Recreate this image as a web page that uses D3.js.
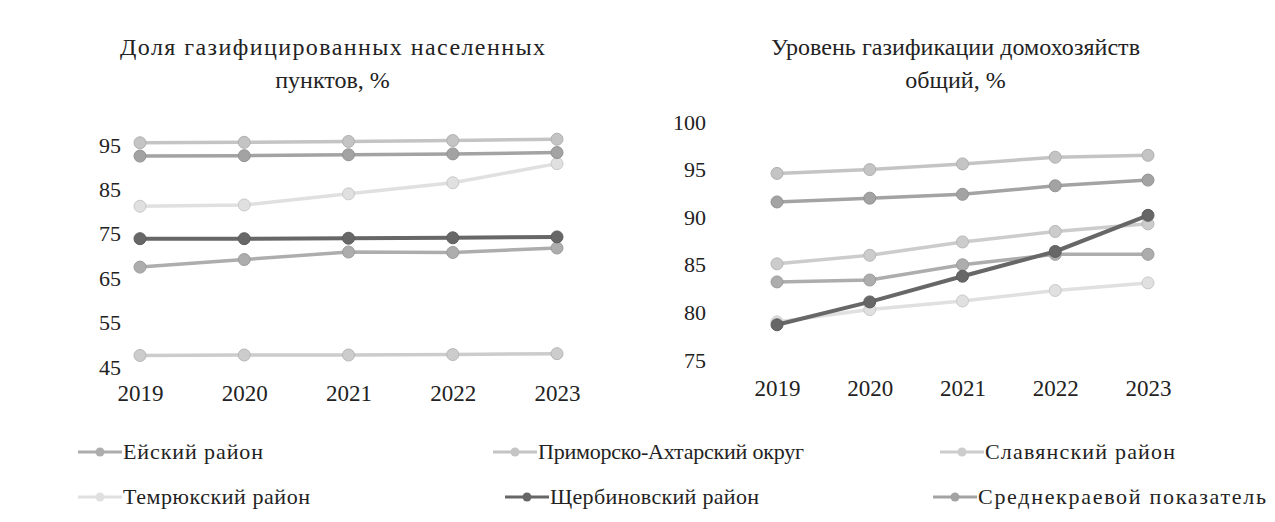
<!DOCTYPE html>
<html>
<head>
<meta charset="utf-8">
<script src="https://cdn.jsdelivr.net/npm/d3@7"></script>
<style>
  body { margin: 0; background: #fff; }
</style>
</head>
<body>
<div id="chart"></div>
<script>
'use strict';

// years on the x axis
const years = [2019, 2020, 2021, 2022, 2023];

// series names, in legend order
const names = [
  'Ейский район',
  'Приморско-Ахтарский округ',
  'Славянский район',
  'Темрюкский район',
  'Щербиновский район',
  'Среднекраевой показатель'
];
const shades = ['#adadad', '#c4c4c4', '#cccccc', '#e0e0e0', '#676767', '#a3a3a3'];

// left chart: share of gasified settlements, %
const settlementsEysk     = [67.5, 69.2, 70.9, 70.8, 71.8];
const settlementsPrimorsk = [95.5, 95.6, 95.8, 96.0, 96.3];
const settlementsSlav     = [47.6, 47.7, 47.7, 47.8, 48.0];
const settlementsTemr     = [81.2, 81.5, 84.0, 86.5, 90.8];
const settlementsScherb   = [73.9, 73.9, 74.0, 74.1, 74.3];
const settlementsAvg      = [92.5, 92.6, 92.8, 93.0, 93.3];
const leftTicks = [45, 55, 65, 75, 85, 95];

// right chart: households gasification level, %
const householdsEysk     = [83.2, 83.4, 85.0, 86.1, 86.1];
const householdsPrimorsk = [94.6, 95.0, 95.6, 96.3, 96.5];
const householdsSlav     = [85.1, 86.0, 87.4, 88.5, 89.3];
const householdsTemr     = [79.0, 80.3, 81.2, 82.3, 83.1];
const householdsScherb   = [78.7, 81.1, 83.8, 86.4, 90.2];
const householdsAvg      = [91.6, 92.0, 92.4, 93.3, 93.9];
const rightTicks = [75, 80, 85, 90, 95, 100];

const FONT = 'Liberation Serif';
const W = 1275, H = 522;
const svg = d3.select('#chart').append('svg')
  .attr('width', W).attr('height', H)
  .attr('font-family', FONT);

// draw order: light ones under, dark on top
const order = [3, 2, 1, 0, 5, 4];

const panel = function(opts) {
  const x = d3.scalePoint().domain(years).range(opts.xr);
  const y = d3.scaleLinear().domain(opts.yd).range(opts.yr);
  const g = svg.append('g');

  // title: first line stretched to the reference width, second centred
  g.append('text')
    .attr('font-family', FONT)
    .attr('font-size', 24)
    .attr('fill', '#222')
    .attr('x', opts.tx)
    .attr('y', 55)
    .attr('textLength', opts.tw)
    .attr('lengthAdjust', 'spacing')
    .text(opts.title[0]);
  g.append('text')
    .attr('font-family', FONT)
    .attr('font-size', 24)
    .attr('fill', '#222')
    .attr('text-anchor', 'middle')
    .attr('x', opts.tx + opts.tw / 2)
    .attr('y', 88)
    .text(opts.title[1]);

  const yAxis = d3.axisLeft(y).tickValues(opts.ticks).tickSize(0).tickPadding(0);
  g.append('g')
    .attr('transform', `translate(${opts.yx},0)`)
    .call(yAxis)
    .attr('font-family', FONT)
    .call(a => a.select('.domain').remove())
    .selectAll('text')
    .attr('font-family', FONT)
    .attr('font-size', 22)
    .attr('fill', '#222');

  const xAxis = d3.axisBottom(x).tickSize(0).tickPadding(0);
  g.append('g')
    .attr('transform', `translate(0,${opts.xy})`)
    .call(xAxis)
    .attr('font-family', FONT)
    .call(a => a.select('.domain').remove())
    .selectAll('text')
    .attr('font-family', FONT)
    .attr('font-size', 23)
    .attr('fill', '#222');

  const line = d3.line().x((d, i) => x(years[i])).y(d => y(d));
  order.forEach(function(k) {
    const vals = opts.series[k];
    g.append('path')
      .attr('d', line(vals))
      .style('fill', 'none')
      .style('stroke', shades[k])
      .style('stroke-width', k === 4 ? 4 : 3.5);
    g.selectAll(null)
      .data(vals)
      .enter()
      .append('circle')
      .attr('cx', (d, i) => x(years[i]))
      .attr('cy', d => y(d))
      .attr('r', 6)
      .style('fill', shades[k])
      .style('stroke', d3.color(shades[k]).darker(0.3))
      .style('stroke-width', 1);
  });
};

panel({
  title: ['Доля газифицированных населенных', 'пунктов, %'],
  tx: 120, tw: 425,
  xr: [140, 557], xy: 385,
  yd: [45, 95], yr: [367, 145], yx: 121,
  ticks: leftTicks,
  series: [settlementsEysk, settlementsPrimorsk, settlementsSlav,
           settlementsTemr, settlementsScherb, settlementsAvg]
});

panel({
  title: ['Уровень газификации домохозяйств', 'общий, %'],
  tx: 771, tw: 369,
  xr: [777, 1148], xy: 380,
  yd: [75, 100], yr: [360, 122], yx: 706,
  ticks: rightTicks,
  series: [householdsEysk, householdsPrimorsk, householdsSlav,
           householdsTemr, householdsScherb, householdsAvg]
});

// legend
const legendPos = [
  [78, 452], [493, 452], [940, 452],
  [78, 497], [505, 497], [933, 497]
];
const legendWidth = [140, 266, 190, 187, 209, 288];
const legend = svg.append('g');
names.forEach(function(n, k) {
  const [lx, ly] = legendPos[k];
  const item = legend.append('g').attr('transform', `translate(${lx},${ly})`);
  item.append('line')
    .attr('x1', 0).attr('x2', 44)
    .attr('y1', 0).attr('y2', 0)
    .style('stroke', shades[k])
    .style('stroke-width', 3);
  item.append('circle')
    .attr('cx', 22).attr('cy', 0).attr('r', 4.5)
    .style('fill', shades[k]);
  item.append('text')
    .attr('x', 45).attr('y', 7)
    .attr('font-family', FONT)
    .attr('font-size', 22)
    .attr('fill', '#222')
    .attr('textLength', legendWidth[k])
    .attr('lengthAdjust', 'spacing')
    .text(n);
});
</script>
</body>
</html>
